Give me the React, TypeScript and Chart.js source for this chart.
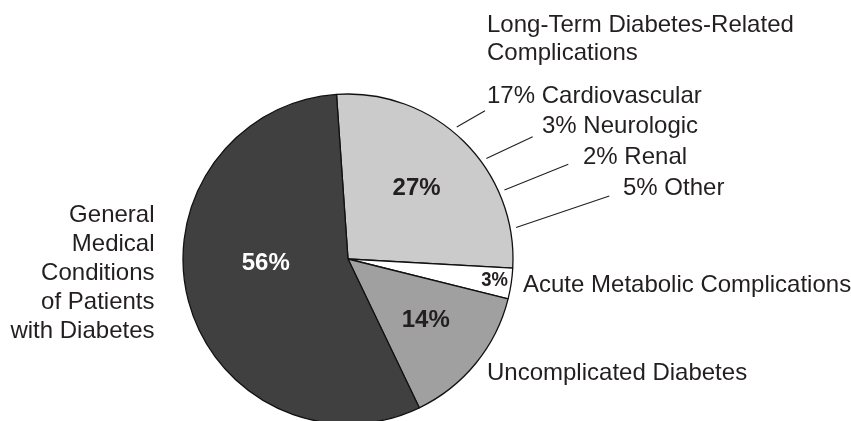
import React, { useEffect, useRef } from "react";
import { Chart, registerables } from "chart.js";

Chart.register(...registerables);

const categories = [
  "Long-Term Diabetes-Related Complications",
  "Acute Metabolic Complications",
  "Uncomplicated Diabetes",
  "General Medical Conditions of Patients with Diabetes",
];
const values = [27, 3, 14, 56];
const sliceColors = ["#cbcbcb", "#ffffff", "#a0a0a0", "#404040"];
const pctColors = ["#231f20", "#231f20", "#231f20", "#ffffff"];

const subCategories = ["Cardiovascular", "Neurologic", "Renal", "Other"];
const subValues = [17, 3, 2, 5];

const TEXT = "#231f20";
const FONT = '"Liberation Sans", Arial, Helvetica, sans-serif';

const labelPlugin = {
  id: "labels",
  afterDraw(chart: any) {
    const ctx = chart.ctx as CanvasRenderingContext2D;
    const meta = chart.getDatasetMeta(0);
    const a0 = meta.data[0] as any;
    const { x: cx, y: cy, outerRadius: R } = a0.getProps(["x", "y", "outerRadius"], true);
    ctx.save();

    // inside percentages: [dx, dy, font size, horizontal scale]
    const inOffsets = [
      [68.6, -71.5, 24, 1],
      [146.7, 20, 21, 0.88],
      [77.7, 60, 24, 1],
      [-82.3, 3.5, 24, 1],
    ];
    ctx.textAlign = "center";
    ctx.textBaseline = "middle";
    values.forEach((v, i) => {
      const [dx, dy, fs, sx] = inOffsets[i];
      ctx.save();
      ctx.font = `bold ${fs}px ${FONT}`;
      ctx.fillStyle = pctColors[i];
      ctx.translate(cx + dx, cy + dy + 1);
      ctx.scale(sx, 1);
      ctx.fillText(`${v}%`, 0, 0);
      ctx.restore();
    });

    // outer labels
    ctx.font = `24px ${FONT}`;
    ctx.fillStyle = TEXT;
    ctx.textBaseline = "alphabetic";
    ctx.textAlign = "left";
    ctx.fillText("Long-Term Diabetes-Related", 487, 31.5);
    ctx.fillText("Complications", 487, 60);

    const subX = [487, 542, 583, 623];
    const subY = [103, 133, 164, 195];
    const leaderAng = [39.5, 54, 66.2, 79.4];
    const leaderEnd = [
      [485, 110.7],
      [532.7, 136.7],
      [568.3, 164.3],
      [609.3, 196],
    ];
    ctx.strokeStyle = "#231f20";
    ctx.lineWidth = 1.1;
    subCategories.forEach((c, i) => {
      ctx.fillText(`${subValues[i]}% ${c}`, subX[i], subY[i]);
      const ang = ((leaderAng[i] - 90) * Math.PI) / 180;
      const r = R + 6;
      ctx.beginPath();
      ctx.moveTo(cx + r * Math.cos(ang), cy + r * Math.sin(ang));
      ctx.lineTo(leaderEnd[i][0], leaderEnd[i][1]);
      ctx.stroke();
    });

    ctx.fillText(categories[1], 523, 291.5);
    ctx.fillText(categories[2], 487, 380);

    ctx.textAlign = "right";
    const leftLines = ["General", "Medical", "Conditions", "of Patients", "with Diabetes"];
    leftLines.forEach((l, i) => {
      ctx.fillText(l, 154.5, 222 + i * 29);
    });
    ctx.restore();
  },
};

export default function App() {
  const ref = useRef<HTMLCanvasElement | null>(null);
  useEffect(() => {
    if (!ref.current) return;
    const chart = new Chart(ref.current, {
      type: "pie",
      data: {
        labels: categories,
        datasets: [
          {
            data: values,
            backgroundColor: sliceColors,
            borderColor: "#111111",
            borderWidth: 1.3,
            hoverOffset: 0,
          },
        ],
      },
      options: {
        animation: false,
        responsive: false,
        rotation: -4,
        radius: 165,
        layout: { padding: { left: 0, right: 155, top: 97, bottom: 0 } },
        plugins: {
          legend: { display: false },
          tooltip: { enabled: false },
        },
        events: [],
      } as any,
      plugins: [labelPlugin],
    });
    return () => chart.destroy();
  }, []);
  return (
    <div style={{ position: "absolute", left: 0, top: 0, width: 851, height: 421, background: "#fff" }}>
      <canvas ref={ref} width={851} height={421} style={{ display: "block" }} />
    </div>
  );
}
